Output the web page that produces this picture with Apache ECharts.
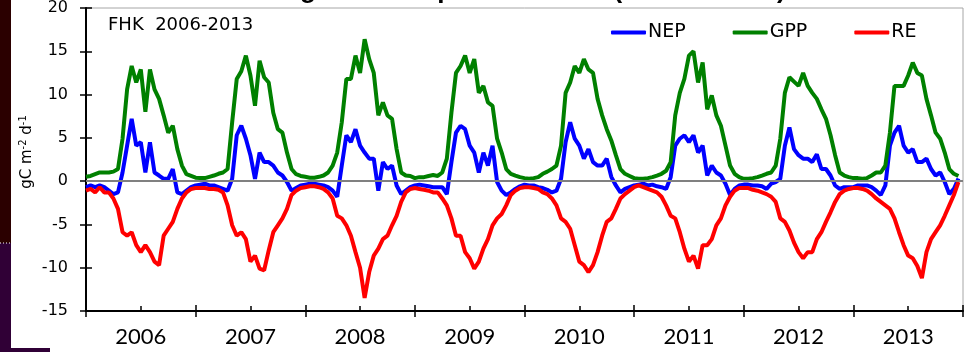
<!DOCTYPE html>
<html>
<head>
<meta charset="utf-8">
<script src="https://cdn.jsdelivr.net/npm/echarts@6/dist/echarts.min.js"></script>
<style>
  html, body { margin: 0; padding: 0; background: #fff; }
  #main { width: 966px; height: 352px; }
</style>
</head>
<body>
<div id="main"></div>
<script>
// year labels on the x axis, one band per year
var yearLabels = ['2006', '2007', '2008', '2009', '2010', '2011', '2012', '2013'];
var firstYear = 2006;
var perYear = 24; // half-month readings

// gC m-2 d-1, one line per year
var nep = [
  -0.7,-0.5,-0.7,-0.5,-0.7,-1.1,-1.5,-1.3, 1.0, 4.1, 7.2, 4.1, 4.5, 1.0, 4.5, 1.0, 0.65,0.27,0.27,1.4,-1.3,-1.5,-1.1,-0.7,
  -0.5,-0.4,-0.3,-0.5,-0.5,-0.7,-0.9,-1.1, 0.27,5.3, 6.4, 4.9, 3.0, 0.27,3.3, 2.2, 2.2, 1.8, 1.0, 0.65,-0.1,-1.1,-0.8,-0.5,
  -0.4,-0.3,-0.3,-0.4,-0.5,-0.7,-1.1,-1.8, 1.8, 5.3, 4.5, 6.0, 4.1, 3.3, 2.6, 2.6,-1.1, 2.2, 1.4, 1.8,-0.5,-1.5,-1.1,-0.7,
  -0.5,-0.4,-0.5,-0.6,-0.7,-0.7,-0.7,-1.5, 2.2, 5.6, 6.4, 6.0, 4.1, 3.3, 1.0, 3.3, 1.8, 4.1,-0.1,-1.1,-1.6,-1.3,-0.9,-0.6,
  -0.4,-0.5,-0.5,-0.7,-0.8,-1.0,-1.3,-1.1, 0.27,4.5, 6.8, 4.9, 4.1, 2.6, 3.7, 2.2, 1.8, 1.8, 2.6, 0.5,-0.5,-1.3,-0.9,-0.7,
  -0.5,-0.4,-0.3,-0.5,-0.4,-0.6,-0.7,-0.9, 0.46,4.1, 4.9, 5.3, 4.5, 5.3, 3.3, 4.1, 0.65,1.8, 1.0, 0.65,-0.3,-1.6,-0.9,-0.5,
  -0.4,-0.4,-0.5,-0.5,-0.6,-0.9,-0.3,-0.1, 0.27,4.1, 6.2, 3.7, 3.0, 2.6, 2.6, 2.2, 3.1, 1.4, 1.4, 0.65,-0.5,-0.9,-0.7,-0.7,
  -0.7,-0.5,-0.5,-0.5,-0.7,-1.1,-1.6,-0.5, 4.1, 5.6, 6.4, 4.1, 3.3, 3.7, 2.2, 2.2, 2.6, 1.4, 0.65,1.0,-0.1,-1.5,-0.9, 0.3
];
var gpp = [
  0.5, 0.6, 0.8, 1.0, 1.0, 1.0, 1.1, 1.4, 4.9,10.6,13.3,11.4,12.9, 8.0,12.9,10.6, 9.5, 7.6, 5.6, 6.4, 3.7, 1.8, 0.8, 0.6,
  0.4, 0.35,0.35,0.5, 0.65,0.85,1.0, 1.4, 6.8,11.8,12.7,14.5,12.2, 8.7,13.9,12.0,11.4, 7.9, 6.0, 5.6, 3.3, 1.4, 0.8, 0.6,
  0.5, 0.4, 0.4, 0.5, 0.65,1.0, 1.8, 3.3, 6.8,11.8,11.8,14.5,12.5,16.4,14.1,12.5, 7.6, 9.1, 7.6, 7.2, 3.7, 1.0, 0.65,0.6,
  0.35,0.46,0.46,0.6, 0.7, 0.6, 1.0, 2.6, 7.9,12.5,13.3,14.5,12.5,14.1,10.2,11.0, 9.1, 8.7, 4.9, 3.3, 1.4, 0.85,0.65,0.46,
  0.35,0.27,0.35,0.46,0.85,1.1, 1.4, 1.8, 4.1,10.2,11.4,13.3,12.5,14.1,12.9,12.5, 9.5, 7.6, 6.0, 4.7, 3.0, 1.4, 0.85,0.6,
  0.35,0.27,0.27,0.35,0.46,0.65,0.85,1.2, 2.2, 7.6,10.2,11.8,14.5,15.0,11.4,13.7, 8.3, 9.9, 7.6, 6.4, 4.1, 1.8, 0.85,0.46,
  0.27,0.27,0.35,0.46,0.65,0.85,1.0, 1.8, 4.9,10.2,12.0,11.5,11.0,12.5,11.0,10.2, 9.5, 8.3, 7.2, 5.3, 3.0, 1.0, 0.65,0.46,
  0.35,0.35,0.27,0.35,0.65,1.0, 1.0, 1.8, 5.6,11.0,11.0,11.0,12.2,13.7,12.5,12.2, 9.5, 7.6, 5.6, 4.9, 3.3, 1.4, 0.85,0.6
];
var re = [
  -1.1,-0.9,-1.3,-0.7,-1.3,-1.3,-2.0,-3.2,-5.9,-6.3,-5.9,-7.4,-8.2,-7.4,-8.2,-9.3,-9.7,-6.3,-5.5,-4.7,-3.2,-2.0,-1.3,-0.9,
  -0.8,-0.8,-0.8,-0.9,-0.9,-1.0,-1.3,-2.8,-5.1,-6.3,-5.9,-6.7,-9.3,-8.6,-10.1,-10.3,-8.0,-5.9,-5.1,-4.3,-3.2,-1.6,-1.1,-0.8,
  -0.7,-0.6,-0.6,-0.7,-0.9,-1.3,-2.0,-4.0,-4.3,-5.1,-6.3,-8.2,-10.0,-13.5,-10.5,-8.6,-7.8,-6.7,-6.3,-5.1,-4.0,-2.4,-1.3,-0.9,
  -0.8,-0.9,-1.0,-1.1,-1.3,-1.3,-2.0,-2.8,-4.3,-6.3,-6.3,-8.2,-8.9,-10.1,-9.3,-7.8,-6.7,-5.1,-4.3,-3.8,-2.8,-1.6,-1.1,-0.8,
  -0.7,-0.7,-0.8,-0.9,-1.3,-1.5,-2.0,-2.8,-4.3,-4.7,-5.5,-7.4,-9.3,-9.7,-10.5,-9.7,-8.2,-6.3,-4.7,-4.3,-3.2,-2.0,-1.5,-1.1,
  -0.7,-0.5,-0.7,-0.9,-1.1,-1.3,-1.8,-2.8,-4.0,-4.3,-5.9,-7.8,-9.3,-8.6,-10.1,-7.4,-7.4,-6.7,-5.1,-4.3,-2.8,-1.8,-1.1,-0.8,
  -0.8,-0.8,-1.0,-1.1,-1.3,-1.5,-1.8,-2.4,-4.3,-4.7,-5.7,-7.1,-8.2,-8.9,-8.2,-8.2,-6.7,-5.9,-4.7,-3.6,-2.4,-1.5,-1.1,-0.9,
  -0.8,-0.8,-0.9,-1.1,-1.5,-2.0,-2.4,-2.8,-3.2,-4.3,-5.9,-7.4,-8.6,-8.9,-9.8,-11.2,-8.2,-6.7,-5.9,-5.1,-4.0,-2.8,-1.6,-0.1
];

function toPoints(values) {
  return values.map(function (v, i) { return [firstYear + i / perYear, v]; });
}

var chart = echarts.init(document.getElementById('main'));
var tickFont = 'DejaVu Sans';

var option = {
  animation: false,
  backgroundColor: '#fff',
  grid: {
    left: 86, right: 3, top: 7, bottom: 41,
    show: true, borderColor: '#a6a6a6', borderWidth: 1
  },
  legend: {
    left: 606, top: 18,
    itemWidth: 35, itemHeight: 4, itemGap: 47,
    icon: 'roundRect',
    textStyle: { fontFamily: tickFont, fontSize: 19, color: '#000', padding: [0, 0, 0, -3] },
    data: ['NEP', 'GPP', 'RE']
  },
  xAxis: [
    {
      type: 'value', min: 2006, max: 2014, interval: 1,
      axisLine: { show: true, onZero: false, lineStyle: { color: '#000', width: 2 } },
      axisTick: { show: true, inside: true, length: 6, lineStyle: { color: '#000', width: 1.5 } },
      minorTick: { show: true, splitNumber: 2, length: 5, lineStyle: { color: '#000', width: 1.5 } },
      axisLabel: { show: false },
      splitLine: { show: false }
    },
    {
      type: 'category', position: 'bottom', boundaryGap: true,
      data: yearLabels,
      axisLine: { show: false, onZero: false },
      axisTick: { show: true, inside: false, length: 6, lineStyle: { color: '#000', width: 1.5 } },
      axisLabel: { fontFamily: 'Lato', fontSize: 22, color: '#000', margin: 15 },
      splitLine: { show: false }
    }
  ],
  yAxis: [
    {
      type: 'value', min: -15, max: 20, interval: 5,
      axisLine: { show: true, lineStyle: { color: '#000', width: 2 } },
      axisTick: { show: true, inside: false, length: 6, lineStyle: { color: '#000', width: 1.5 } },
      axisLabel: { fontFamily: tickFont, fontSize: 16, color: '#000', margin: 18 },
      splitLine: { show: false }
    },
    {
      type: 'value', min: -15, max: 20, interval: 5, position: 'left',
      axisLine: { show: false },
      axisTick: { show: true, inside: true, length: 6, lineStyle: { color: '#000', width: 1.5 } },
      axisLabel: { show: false },
      splitLine: { show: false }
    }
  ],
  series: [
    {
      name: 'NEP', type: 'line', data: toPoints(nep),
      showSymbol: false, symbol: 'none', color: '#0000ff',
      lineStyle: { width: 4, color: '#0000ff' },
      markLine: {
        silent: true, symbol: 'none', label: { show: false },
        lineStyle: { color: '#808080', width: 2, type: 'solid' },
        data: [{ yAxis: 0 }]
      }
    },
    {
      name: 'GPP', type: 'line', data: toPoints(gpp),
      showSymbol: false, symbol: 'none', color: '#008000',
      lineStyle: { width: 4, color: '#008000' }
    },
    {
      name: 'RE', type: 'line', data: toPoints(re),
      showSymbol: false, symbol: 'none', color: '#ff0000',
      lineStyle: { width: 4, color: '#ff0000' }
    }
  ],
  graphic: [
    // dark slide edge on the left
    { type: 'rect', left: 0, top: 0, shape: { width: 11, height: 243 }, style: { fill: '#2b0000' }, z: 100 },
    { type: 'rect', left: 0, top: 243, shape: { width: 11, height: 109 }, style: { fill: '#300036' }, z: 100 },
    { type: 'rect', left: 0, top: 348, shape: { width: 50, height: 4 }, style: { fill: '#300036' }, z: 100 },
    { type: 'line', shape: { x1: 0, y1: 243, x2: 11, y2: 243 }, style: { stroke: '#fff', lineWidth: 1, lineDash: [1, 2] }, z: 101 },
    // slide title, mostly cut off above the picture
    {
      type: 'text', x: 118, y: -9.5, z: 100,
      style: {
        text: 'Seasonal changes of component fluxes (2006 to 2013)',
        font: 'bold 26px "Liberation Sans"', fill: '#000',
        textAlign: 'left', textVerticalAlign: 'middle'
      }
    },
    {
      type: 'text', x: 108, y: 25, z: 100,
      style: {
        text: 'FHK  2006-2013', font: '18px "DejaVu Sans"', fill: '#000',
        textAlign: 'left', textVerticalAlign: 'middle'
      }
    },
    {
      type: 'text', x: 27, y: 152, rotation: Math.PI / 2, z: 100,
      style: {
        text: '{a|gC m}{s|-2}{a| d}{s|-1}',
        rich: {
          a: { fontFamily: tickFont, fontSize: 15, color: '#000' },
          s: { fontFamily: tickFont, fontSize: 10, color: '#000', padding: [0, 0, 8, 0] }
        },
        textAlign: 'center', textVerticalAlign: 'middle'
      }
    }
  ]
};
chart.setOption(option);
</script>
</body>
</html>
